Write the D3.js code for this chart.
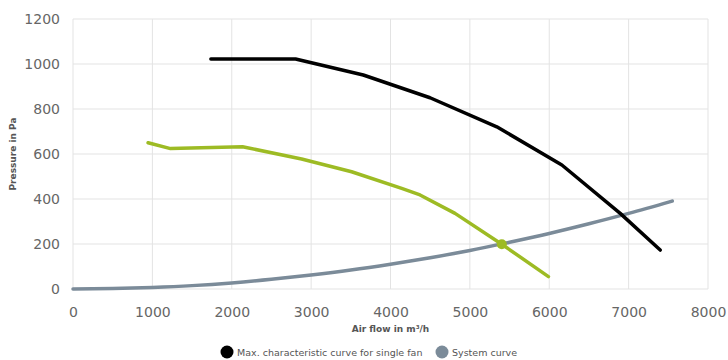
<!DOCTYPE html>
<html>
<head>
<meta charset="utf-8">
<script src="https://cdn.jsdelivr.net/npm/d3@7"></script>
<style>
  html, body { margin: 0; padding: 0; background: #fff; }
  svg { display: block; font-family: "DejaVu Sans", sans-serif; }
</style>
</head>
<body>
<svg id="chart" width="728" height="360"></svg>
<script>
// Fan characteristic (max. curve), working-point curve and system curve
const fanFlow     = [1737, 2804, 3657, 4498, 5339, 6159, 6894, 7398];
const fanPressure = [1022, 1022, 951, 850, 721, 551, 336, 173];

const workFlow     = [946, 1228, 2136, 2880, 3510, 4141, 4372, 4813, 5402, 5990];
const workPressure = [650, 624, 632, 578, 521, 447, 418, 336, 199, 55];

const sysFlow     = [0, 500, 1000, 1500, 2000, 2500, 3000, 3500, 4000, 4500, 5000, 5500, 6000, 6500, 7000, 7550];
const sysPressure = [0, 2, 7, 15, 27, 43, 62, 84, 110, 139, 171, 208, 247, 290, 336, 391];

const opFlow = [5402];
const opPressure = [199];

const xTicks = [0, 1000, 2000, 3000, 4000, 5000, 6000, 7000, 8000];
const yTicks = [0, 200, 400, 600, 800, 1000, 1200];

const legendLabels = ["Max. characteristic curve for single fan", "System curve"];
const legendColors = ["#000000", "#7b8b99"];

const svg = d3.select("#chart");

const x = d3.scaleLinear().domain([0, 8000]).range([73, 708]);
const y = d3.scaleLinear().domain([0, 1200]).range([289, 19]);

// grid
const grid = svg.append("g");
grid.selectAll("line.v").data(xTicks).join("line")
  .attr("x1", d => x(d)).attr("x2", d => x(d))
  .attr("y1", y(1200)).attr("y2", y(0))
  .attr("stroke", "#e3e3e3").attr("stroke-width", 1);
grid.selectAll("line.h").data(yTicks).join("line")
  .attr("x1", x(0)).attr("x2", x(8000))
  .attr("y1", d => y(d)).attr("y2", d => y(d))
  .attr("stroke", "#e3e3e3").attr("stroke-width", 1);

// axes (labels only)
const xAxis = svg.append("g").attr("transform", `translate(0,${y(0)})`)
  .call(d3.axisBottom(x).tickValues(xTicks).tickSize(0).tickPadding(15).tickFormat(d3.format("d")));
const yAxis = svg.append("g").attr("transform", `translate(${x(0)},0)`)
  .call(d3.axisLeft(y).tickValues(yTicks).tickSize(0).tickPadding(13).tickFormat(d3.format("d")));
[xAxis, yAxis].forEach(a => {
  a.select(".domain").remove();
  a.selectAll("text").attr("fill", "#666").style("font-size", "14px")
    .style("font-family", "'DejaVu Sans', sans-serif");
});
xAxis.selectAll("text").attr("dy", "0.9em");
yAxis.selectAll("text").attr("dy", "0.35em");

// axis titles
svg.append("text").attr("x", (x(0) + x(8000)) / 2).attr("y", 332)
  .attr("text-anchor", "middle").attr("fill", "#555")
  .style("font-size", "9px").style("font-weight", "bold")
  .text("Air flow in m³/h");
svg.append("text")
  .attr("transform", `translate(16,${(y(0) + y(1200)) / 2}) rotate(-90)`)
  .attr("text-anchor", "middle").attr("fill", "#555")
  .style("font-size", "9px").style("font-weight", "bold")
  .text("Pressure in Pa");

const line = d3.line().x(d => x(d[0])).y(d => y(d[1]));
const sysLine = d3.line().x(d => x(d[0])).y(d => y(d[1])).curve(d3.curveMonotoneX);

svg.append("path").datum(d3.zip(sysFlow, sysPressure))
  .attr("d", sysLine).attr("fill", "none")
  .attr("stroke", "#7b8b99").attr("stroke-width", 3.5).attr("stroke-linecap", "round");

svg.append("path").datum(d3.zip(workFlow, workPressure))
  .attr("d", line).attr("fill", "none")
  .attr("stroke", "#9dbb24").attr("stroke-width", 3.5)
  .attr("stroke-linejoin", "round").attr("stroke-linecap", "round");

svg.append("path").datum(d3.zip(fanFlow, fanPressure))
  .attr("d", line).attr("fill", "none")
  .attr("stroke", "#000").attr("stroke-width", 3.5)
  .attr("stroke-linejoin", "round").attr("stroke-linecap", "round");

svg.selectAll("circle.op").data(d3.zip(opFlow, opPressure)).join("circle")
  .attr("cx", d => x(d[0])).attr("cy", d => y(d[1])).attr("r", 5)
  .attr("fill", "#9dbb24");

// legend
const legend = svg.append("g");
const legX = [227, 442];
legendLabels.forEach((label, i) => {
  legend.append("circle").attr("cx", legX[i]).attr("cy", 352).attr("r", 6.5)
    .attr("fill", legendColors[i]);
  legend.append("text").attr("x", legX[i] + 10).attr("y", 355.5)
    .attr("fill", "#555").style("font-size", "9.5px").text(label);
});
</script>
</body>
</html>
